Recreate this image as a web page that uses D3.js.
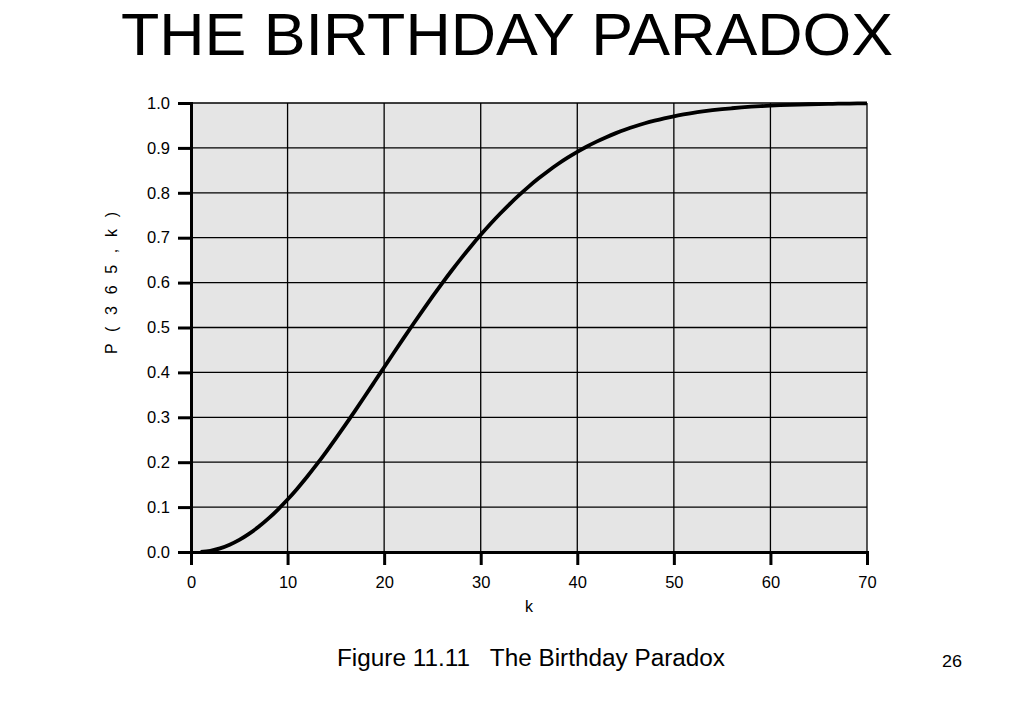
<!DOCTYPE html>
<html><head><meta charset="utf-8">
<script src="https://cdn.jsdelivr.net/npm/d3@7"></script>
<style>body{margin:0;background:#fff;}svg{display:block;font-family:"Liberation Sans",Arial,sans-serif;}</style>
</head><body>
<svg id="c" width="1023" height="708"></svg>
<script>
const kValues = d3.range(1, 71);
const probValues = [0,0.0027,0.0082,0.0164,0.0271,0.0405,0.0562,0.0743,0.0946,0.1169,
0.1411,0.1670,0.1944,0.2231,0.2529,0.2836,0.3150,0.3469,0.3791,0.4114,
0.4437,0.4757,0.5073,0.5383,0.5687,0.5982,0.6269,0.6545,0.6810,0.7063,
0.7305,0.7533,0.7750,0.7953,0.8144,0.8322,0.8487,0.8641,0.8782,0.8912,
0.9032,0.9140,0.9239,0.9329,0.9410,0.9483,0.9548,0.9606,0.9658,0.9704,
0.9744,0.9780,0.9811,0.9839,0.9863,0.9883,0.9901,0.9917,0.9930,0.9941,
0.9951,0.9959,0.9966,0.9972,0.9977,0.9981,0.9984,0.9987,0.9990,0.9992];
const xTicks = [0,10,20,30,40,50,60,70];
const yTicks = [0,0.1,0.2,0.3,0.4,0.5,0.6,0.7,0.8,0.9,1.0];

const svg = d3.select("#c");
const L=191, R=867, T=103, B=552;
const x = d3.scaleLinear().domain([0,70]).range([L,R]);
const y = d3.scaleLinear().domain([0,1]).range([B,T]);

svg.append("rect").attr("x",L).attr("y",T).attr("width",R-L).attr("height",B-T).attr("fill","#e5e5e5");

// grid
svg.append("g").selectAll("line").data(xTicks.slice(1)).join("line")
  .attr("x1",d=>x(d)).attr("x2",d=>x(d)).attr("y1",T).attr("y2",B)
  .attr("stroke","#000").attr("stroke-width",1.3);
svg.append("g").selectAll("line").data(yTicks.slice(1)).join("line")
  .attr("x1",L).attr("x2",R).attr("y1",d=>y(d)).attr("y2",d=>y(d))
  .attr("stroke","#000").attr("stroke-width",1.3);

// axes
const xa = svg.append("g").attr("transform",`translate(0,${B})`)
  .call(d3.axisBottom(x).tickValues(xTicks).tickSize(13).tickPadding(7).tickFormat(d3.format("d")));
const ya = svg.append("g").attr("transform",`translate(${L},0)`)
  .call(d3.axisLeft(y).tickValues(yTicks).tickSize(13).tickPadding(8).tickFormat(d3.format(".1f")));
[xa,ya].forEach(a=>{
  a.select(".domain").attr("stroke","#000").attr("stroke-width",3);
  a.selectAll(".tick line").attr("stroke","#000").attr("stroke-width",3);
  a.selectAll(".tick text").attr("fill","#000").attr("font-size",16.5)
   .attr("font-family","Liberation Sans, Arial, sans-serif");
});
xa.selectAll(".tick text").attr("dy","0.95em");

// curve
svg.append("path").datum(kValues.map((k,i)=>[k,probValues[i]]))
  .attr("d", d3.line().x(d=>x(d[0])).y(d=>y(d[1])).curve(d3.curveMonotoneX))
  .attr("fill","none").attr("stroke","#000").attr("stroke-width",3.8).attr("stroke-linejoin","round");

// labels
svg.append("text").attr("x",507).attr("y",55).attr("text-anchor","middle")
  .attr("font-size",60).attr("textLength",772).attr("lengthAdjust","spacingAndGlyphs")
  .text("THE BIRTHDAY PARADOX");
svg.append("text").attr("x",x(35)).attr("y",612).attr("text-anchor","middle").attr("font-size",16).text("k");
svg.append("text").attr("transform","translate(117,283) rotate(-90)").attr("text-anchor","middle")
  .attr("font-size",16).attr("textLength",142).attr("lengthAdjust","spacing")
  .style("white-space","pre").text("P ( 3 6 5 , k )");
svg.append("text").attr("x",337).attr("y",666).attr("font-size",23)
  .style("white-space","pre").attr("textLength",388).attr("lengthAdjust","spacingAndGlyphs")
  .text("Figure 11.11   The Birthday Paradox");
svg.append("text").attr("x",952).attr("y",667).attr("text-anchor","middle").attr("font-size",16)
  .attr("textLength",20).attr("lengthAdjust","spacingAndGlyphs").text("26");
</script>
</body></html>
